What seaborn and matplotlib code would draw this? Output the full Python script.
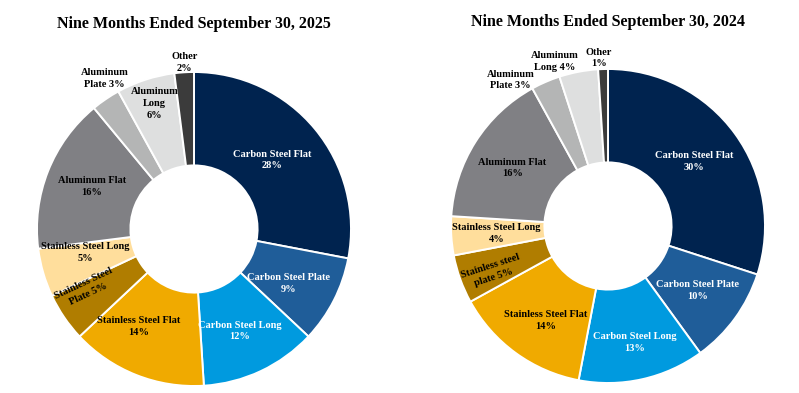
import matplotlib
matplotlib.use("Agg")
import matplotlib.pyplot as plt
import seaborn as sns
import numpy as np

sns.set_theme(style="white")
plt.rcParams['font.family'] = ['Liberation Serif', 'DejaVu Serif']

# ---- data ----
categories = ["Carbon Steel Flat", "Carbon Steel Plate", "Carbon Steel Long",
              "Stainless Steel Flat", "Stainless Steel Plate", "Stainless Steel Long",
              "Aluminum Flat", "Aluminum Plate", "Aluminum Long", "Other"]
values_2025 = [28, 9, 12, 14, 5, 5, 16, 3, 6, 2]
values_2024 = [30, 10, 13, 14, 5, 4, 16, 3, 4, 1]
labels_2025 = ["Carbon Steel Flat\n28%", "Carbon Steel Plate\n9%", "Carbon Steel Long\n12%",
               "Stainless Steel Flat\n14%", "Stainless Steel\nPlate 5%", "Stainless Steel Long\n5%",
               "Aluminum Flat\n16%", "Aluminum\nPlate 3%", "Aluminum\nLong\n6%", "Other\n2%"]
labels_2024 = ["Carbon Steel Flat\n30%", "Carbon Steel Plate\n10%", "Carbon Steel Long\n13%",
               "Stainless Steel Flat\n14%", "Stainless steel\nplate 5%", "Stainless Steel Long\n4%",
               "Aluminum Flat\n16%", "Aluminum\nPlate 3%", "Aluminum\nLong 4%", "Other\n1%"]
titles = ["Nine Months Ended September 30, 2025", "Nine Months Ended September 30, 2024"]

colors = ["#00234F", "#1F5D99", "#009ADF", "#F0AA00", "#B07D00", "#FFDE9C",
          "#808084", "#B4B5B5", "#DEDFDF", "#3B3B3B"]
text_colors = ["white", "white", "white", "black", "black", "black",
               "black", "black", "black", "black"]

# label positions (fraction of radius), rotations
pos_2025 = [(0.50, 0.44), (0.605, -0.345), (0.29, -0.65), (-0.35, -0.62), (-0.69, -0.38),
            (-0.69, -0.15), (-0.65, 0.27), (-0.57, 0.96), (-0.25, 0.80), (-0.06, 1.06)]
pos_2024 = [(0.55, 0.41), (0.57, -0.41), (0.17, -0.74), (-0.40, -0.60), (-0.74, -0.29),
            (-0.71, -0.05), (-0.61, 0.37), (-0.62, 0.93), (-0.34, 1.05), (-0.06, 1.07)]
rot_2025 = [0, 0, 0, 0, 25, 0, 0, 0, 0, 0]
rot_2024 = [0, 0, 0, 0, 18, 0, 0, 0, 0, 0]

W, H = 799, 393
fig = plt.figure(figsize=(W / 100, H / 100), dpi=100)
fig.patch.set_facecolor("white")

def make_ax(cx, cy, r):
    return fig.add_axes([(cx - r) / W, (H - cy - r) / H, 2 * r / W, 2 * r / H])

specs = [
    (194, 229, 157, values_2025, labels_2025, pos_2025, rot_2025, titles[0], 24),
    (608, 226, 157, values_2024, labels_2024, pos_2024, rot_2024, titles[1], 22),
]

for cx, cy, r, vals, labs, pos, rots, title, ty in specs:
    ax = make_ax(cx, cy, r)
    ax.pie(vals, colors=colors, startangle=90, counterclock=False,
           radius=1.0, wedgeprops=dict(width=0.595, edgecolor="white", linewidth=1.4))
    ax.set_xlim(-1, 1)
    ax.set_ylim(-1, 1)
    ax.set_aspect("equal")
    ax.axis("off")
    for lab, (x, y), tc, rot in zip(labs, pos, text_colors, rots):
        ax.text(x, y, lab, ha="center", va="center", color=tc, fontsize=7.5,
                fontweight="bold", rotation=rot, linespacing=1.4, clip_on=False)
    fig.text(cx / W, 1 - ty / H, title, ha="center", va="center",
             fontsize=11.5, fontweight="bold", color="black")

fig.savefig("out.png", dpi=100, facecolor="white")
